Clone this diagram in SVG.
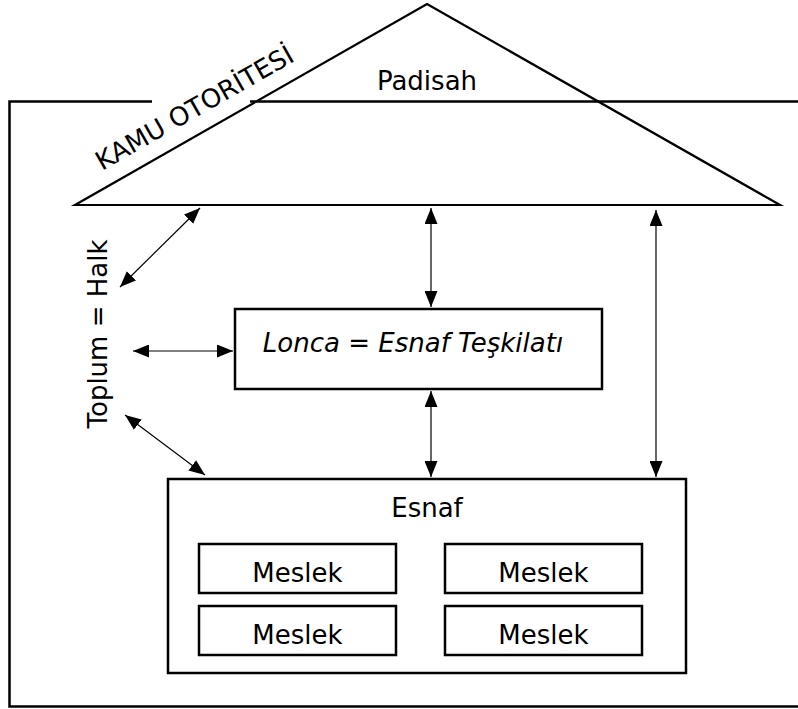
<svg xmlns="http://www.w3.org/2000/svg" width="798" height="709" viewBox="0 0 798 709">
<defs>
<marker id="ah" viewBox="0 0 16 13" refX="16" refY="6.5" markerWidth="16" markerHeight="13" markerUnits="userSpaceOnUse" orient="auto-start-reverse">
<path d="M0,0 L16,6.5 L0,13 Z" fill="#000"/>
</marker>
</defs>
<style>
text{font-family:"DejaVu Sans","Verdana",sans-serif;font-size:26px;fill:#000}
.box{fill:#fff;stroke:#000;stroke-width:2.5}
.arr{fill:none;stroke:#000;stroke-width:1.2;marker-start:url(#ah);marker-end:url(#ah)}
</style>
<rect width="798" height="709" fill="#fff"/>
<g id="frame">
<path d="M800,101.5 H250 M152,101.5 H9.5 V706.5 H800" fill="none" stroke="#000" stroke-width="2.5"/>
</g>
<g id="kamu-otoritesi">
<polygon points="427,4 780,205 75,205" fill="none" stroke="#000" stroke-width="2.2" stroke-linejoin="miter"/>
<text transform="translate(102,171) rotate(-29.7)">KAMU OTORİTESİ</text>
<text x="427" y="90" text-anchor="middle">Padisah</text>
</g>
<g id="toplum">
<text transform="translate(107,334) rotate(-90)" text-anchor="middle">Toplum = Halk</text>
</g>
<g id="lonca">
<rect class="box" x="235" y="309" width="367" height="80"/>
<text x="413" y="352" text-anchor="middle" font-style="italic">Lonca = Esnaf Teşkilatı</text>
</g>
<g id="esnaf">
<rect class="box" x="168" y="479" width="518" height="194"/>
<text x="427" y="517" text-anchor="middle">Esnaf</text>
</g>
<g id="meslek1">
<rect class="box" x="199" y="544" width="197" height="49"/>
<text x="297.5" y="582" text-anchor="middle">Meslek</text>
</g>
<g id="meslek2">
<rect class="box" x="445" y="544" width="197" height="49"/>
<text x="543.5" y="582" text-anchor="middle">Meslek</text>
</g>
<g id="meslek3">
<rect class="box" x="199" y="606" width="197" height="49"/>
<text x="297.5" y="644" text-anchor="middle">Meslek</text>
</g>
<g id="meslek4">
<rect class="box" x="445" y="606" width="197" height="49"/>
<text x="543.5" y="644" text-anchor="middle">Meslek</text>
</g>
<g id="connectors">
<line class="arr" x1="200" y1="208" x2="120" y2="287"/>
<line class="arr" x1="431" y1="208" x2="431" y2="307"/>
<line class="arr" x1="656" y1="210" x2="656" y2="477"/>
<line class="arr" x1="133" y1="351" x2="233" y2="351"/>
<line class="arr" x1="431" y1="391" x2="431" y2="477"/>
<line class="arr" x1="125" y1="415" x2="205" y2="475"/>
</g>
</svg>
